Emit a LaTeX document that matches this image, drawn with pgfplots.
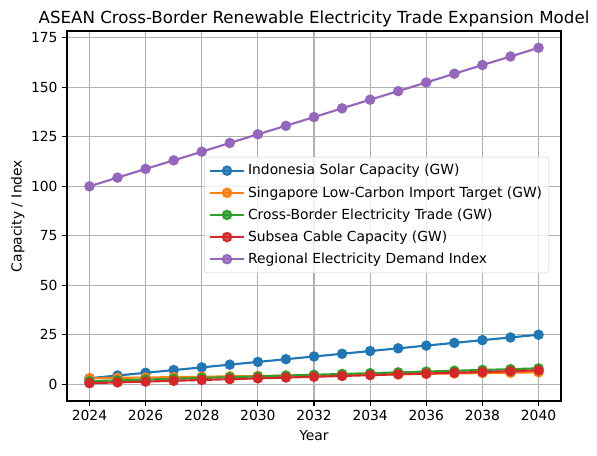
\documentclass[border=0pt]{standalone}
\usepackage{pgfplots}
\pgfplotsset{compat=1.18}
\usepackage{fontspec}
\setmainfont{DejaVu Sans}
\definecolor{c1}{HTML}{1F77B4}
\definecolor{c2}{HTML}{FF7F0E}
\definecolor{c3}{HTML}{2CA02C}
\definecolor{c4}{HTML}{D62728}
\definecolor{c5}{HTML}{9467BD}
\begin{document}
\begin{tikzpicture}
\begin{axis}[
  name=ax,
  scale only axis,
  width=370.5pt, height=277.5pt,
  xmin=2023.2, xmax=2040.8,
  ymin=-8.5, ymax=178.5,
  xtick={2024,2026,...,2040},
  ytick={0,25,...,175},
  /pgf/number format/1000 sep={},
  /pgf/number format/assume math mode=true,
  tick label style={font=\fontsize{10.4}{12}\selectfont},
  label style={font=\fontsize{10.4}{12}\selectfont},
  title style={font=\fontsize{12.5}{14}\selectfont, yshift=-6.5pt},
  title={ASEAN Cross-Border Renewable Electricity Trade Expansion Model},
  xlabel={Year}, ylabel={Capacity / Index},
  ylabel style={yshift=-2pt},
  tick align=outside, tick pos=left,
  major tick length=3.6pt,
  grid=major,
  major grid style={color=black!31, line width=0.8pt},
  axis line style={line width=0.8pt},
  every tick/.style={black, line width=0.8pt},
  legend cell align=left,
  legend style={at={(0.278,0.66)}, anchor=north west,
    font=\fontsize{10.4}{12.5}\selectfont,
    draw=black!20, rounded corners=2pt, fill=white, fill opacity=0.8, text opacity=1,
    inner xsep=3pt, inner ysep=3.5pt, row sep=3.2pt},
  legend image code/.code={
    \draw[#1] (0pt,0pt) -- (26pt,0pt);
    \draw[#1,only marks] plot coordinates {(13pt,0pt)};
  },
  every axis plot/.append style={line width=1.6pt, mark=*, mark size=3.1pt, mark options={solid}},
]
\addplot[c1, mark options={fill=c1, draw=c1}] coordinates {
(2024,3.0)(2025,4.375)(2026,5.75)(2027,7.125)(2028,8.5)(2029,9.875)(2030,11.25)(2031,12.625)(2032,14.0)(2033,15.375)(2034,16.75)(2035,18.125)(2036,19.5)(2037,20.875)(2038,22.25)(2039,23.625)(2040,25.0)
};
\addplot[c2, mark options={fill=c2, draw=c2}] coordinates {
(2024,3.0)(2025,3.19)(2026,3.38)(2027,3.56)(2028,3.75)(2029,3.94)(2030,4.13)(2031,4.31)(2032,4.5)(2033,4.69)(2034,4.88)(2035,5.06)(2036,5.25)(2037,5.44)(2038,5.63)(2039,5.81)(2040,6.0)
};
\addplot[c3, mark options={fill=c3, draw=c3}] coordinates {
(2024,1.5)(2025,1.91)(2026,2.31)(2027,2.72)(2028,3.13)(2029,3.53)(2030,3.94)(2031,4.34)(2032,4.75)(2033,5.16)(2034,5.56)(2035,5.97)(2036,6.38)(2037,6.78)(2038,7.19)(2039,7.59)(2040,8.0)
};
\addplot[c4, mark options={fill=c4, draw=c4}] coordinates {
(2024,0.5)(2025,0.91)(2026,1.31)(2027,1.72)(2028,2.13)(2029,2.53)(2030,2.94)(2031,3.34)(2032,3.75)(2033,4.16)(2034,4.56)(2035,4.97)(2036,5.38)(2037,5.78)(2038,6.19)(2039,6.59)(2040,7.0)
};
\addplot[c5, mark options={fill=c5, draw=c5}] coordinates {
(2024,100.0)(2025,104.4)(2026,108.8)(2027,113.1)(2028,117.5)(2029,121.9)(2030,126.3)(2031,130.6)(2032,135.0)(2033,139.4)(2034,143.8)(2035,148.1)(2036,152.5)(2037,156.9)(2038,161.3)(2039,165.6)(2040,170.0)
};
\legend{Indonesia Solar Capacity (GW),Singapore Low-Carbon Import Target (GW),Cross-Border Electricity Trade (GW),Subsea Cable Capacity (GW),Regional Electricity Demand Index}
\end{axis}
\path[use as bounding box] ([shift={(-50.25pt,-40.5pt)}]ax.south west) rectangle ([shift={(27pt,23.25pt)}]ax.north east);
\end{tikzpicture}
\end{document}
